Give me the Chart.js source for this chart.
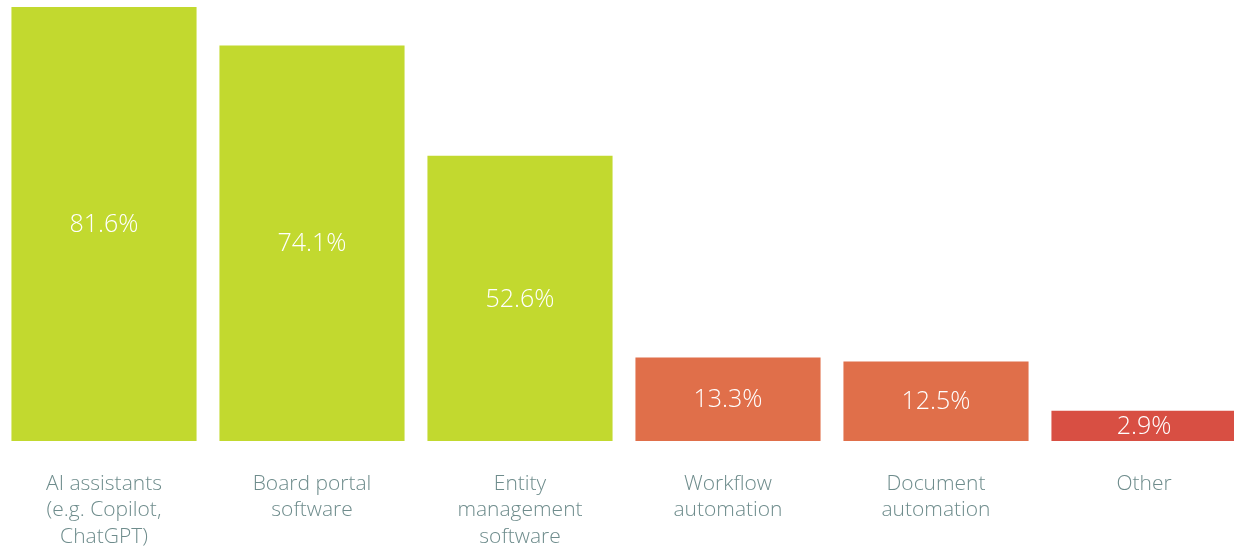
<!DOCTYPE html>
<html>
<head>
<meta charset="utf-8">
<script src="https://cdn.jsdelivr.net/npm/chart.js@4/dist/chart.umd.min.js"></script>
<style>
  html, body { margin: 0; padding: 0; background: #ffffff; overflow: hidden; }
  #wrap { width: 1248px; height: 546px; }
</style>
</head>
<body>
<div id="wrap"><canvas id="toolsChart"></canvas></div>
<script>
// Tools in use
const categories = [
    ["AI assistants", "(e.g. Copilot,", "ChatGPT)"],
    ["Board portal", "software"],
    ["Entity", "management", "software"],
    ["Workflow", "automation"],
    ["Document", "automation"],
    ["Other"]
];
const shares = [81.6, 74.1, 52.6, 13.3, 12.5, 2.9];
const barColors = ["#c2d92f", "#c2d92f", "#c2d92f", "#e06f4a", "#e06f4a", "#d84f43"];

const FONT = "'Open Sans', Lato, sans-serif";
const AXIS_FLOOR = -3; // small stub so tiny bars can still hold their label

// Percent labels centred inside each bar
const valueLabels = {
    id: "valueLabels",
    afterDatasetsDraw(chart) {
        const ctx = chart.ctx;
        const meta = chart.getDatasetMeta(0);
        ctx.save();
        ctx.fillStyle = "#ffffff";
        ctx.font = "300 25px " + FONT;
        ctx.textAlign = "center";
        ctx.textBaseline = "middle";
        meta.data.forEach((bar, i) => {
            const { x, y, base } = bar.getProps(["x", "y", "base"], true);
            ctx.fillText(shares[i].toFixed(1) + "%", x, (y + base) / 2 + 1);
        });
        ctx.restore();
    }
};

const ctx = document.getElementById("toolsChart").getContext("2d");
new Chart(ctx, {
    type: "bar",
    data: {
        labels: categories,
        datasets: [{
            data: shares,
            base: AXIS_FLOOR,
            backgroundColor: barColors,
            borderWidth: 0,
            barPercentage: 0.89,
            categoryPercentage: 1.0
        }]
    },
    options: {
        responsive: true,
        maintainAspectRatio: false,
        animation: false,
        layout: { padding: { top: 7, left: 0, right: 0, bottom: 0 } },
        plugins: {
            legend: { display: false },
            tooltip: { enabled: false }
        },
        scales: {
            x: {
                grid: { display: false, drawTicks: false },
                border: { display: false },
                afterFit(scale) { scale.height = 105; },
                ticks: {
                    color: "#6e8c8c",
                    font: { family: FONT, size: 21, weight: "300", lineHeight: 1.25 },
                    padding: 30,
                    maxRotation: 0,
                    autoSkip: false
                }
            },
            y: {
                display: false,
                min: AXIS_FLOOR,
                max: 81.6
            }
        }
    },
    plugins: [valueLabels]
});
</script>
</body>
</html>
